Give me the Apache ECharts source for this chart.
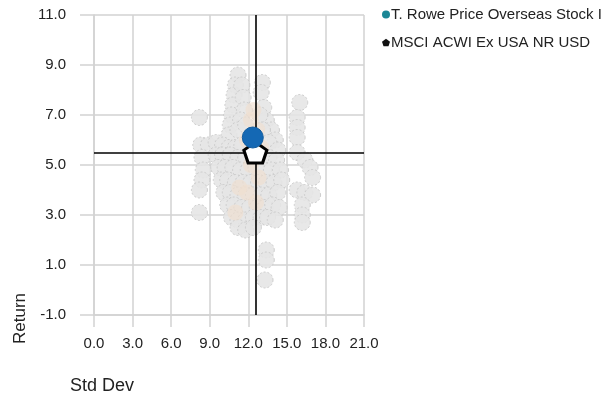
<!DOCTYPE html>
<html>
<head>
<meta charset="utf-8">
<script src="https://cdn.jsdelivr.net/npm/echarts@6/dist/echarts.min.js"></script>
<style>
  html, body { margin: 0; padding: 0; background: #fff; }
  #chart { width: 610px; height: 397px; }
</style>
</head>
<body>
<div id="chart"></div>
<script>
// Risk / return scatter: fund vs. benchmark against its peer group
var fundName = 'T. Rowe Price Overseas Stock I';
var benchName = 'MSCI ACWI Ex USA NR USD';

// [Std Dev, Return]
var fundPoint = [[12.35, 6.1]];
var benchPoint = [[12.55, 5.5]];

var xTicks = [0, 3, 6, 9, 12, 15, 18, 21];
var yTicks = [-1, 1, 3, 5, 7, 9, 11];

// Peer group observations
var peerPoints = [
  // upper column
  [11.2, 8.6], [11.0, 8.2], [10.9, 7.8], [10.8, 7.4], [10.7, 7.0], [10.6, 6.6], [10.5, 6.2],
  [11.5, 8.2], [11.6, 7.7], [11.7, 7.2], [11.4, 6.8], [11.2, 6.4], [11.8, 6.6],
  [13.1, 8.3], [13.0, 7.9], [13.2, 7.3], [13.4, 6.8], [13.8, 6.4], [14.1, 6.0],
  [12.9, 7.0], [13.1, 6.4], [13.6, 5.9], [14.3, 5.6],
  // isolated
  [8.2, 6.9],
  // upper-left stripe
  [8.3, 5.8], [8.9, 5.8], [9.5, 5.9], [10.0, 5.8], [10.5, 5.7], [11.0, 5.7], [11.5, 5.8],
  // left column
  [8.4, 5.3], [8.5, 4.8], [8.4, 4.4], [8.2, 4.0], [8.2, 3.1],
  // main body, row by row
  [9.5, 5.4], [10.0, 5.4], [10.6, 5.4], [11.2, 5.3], [11.8, 5.3], [13.0, 5.3], [13.6, 5.3], [14.2, 5.2],
  [9.7, 4.9], [10.2, 4.9], [10.8, 4.9], [11.4, 4.8], [12.0, 4.8], [12.6, 4.9], [13.2, 4.8], [13.8, 4.8], [14.5, 4.8],
  [9.9, 4.4], [10.4, 4.4], [11.0, 4.3], [11.6, 4.3], [12.2, 4.3], [12.8, 4.3], [13.4, 4.3], [14.0, 4.3], [14.6, 4.4],
  [10.1, 3.9], [10.6, 3.9], [11.2, 3.8], [11.8, 3.8], [12.4, 3.8], [13.0, 3.8], [13.6, 3.8], [14.3, 3.9],
  [10.4, 3.4], [10.9, 3.4], [11.5, 3.3], [12.1, 3.3], [12.7, 3.3], [13.3, 3.3], [13.9, 3.4], [14.4, 3.3],
  [10.7, 2.9], [11.2, 2.8], [11.8, 2.8], [12.4, 2.9], [13.0, 2.9], [13.5, 2.9], [14.1, 2.8],
  [11.2, 2.5], [11.8, 2.4], [12.4, 2.5],
  // right group
  [16.0, 7.5], [15.8, 6.9], [15.8, 6.5], [15.8, 6.1], [15.8, 5.5], [16.4, 5.2], [16.8, 4.9],
  [17.0, 4.5], [15.8, 4.0], [16.4, 3.9], [17.0, 3.8], [16.2, 3.4], [16.2, 3.0], [16.2, 2.7],
  // low returns
  [13.4, 1.6], [13.4, 1.2], [13.3, 0.4]
];

// Warmer-tinted peers in the dense middle of the group
var peerCore = [
  [12.2, 6.8], [12.7, 6.4], [12.4, 7.2], [11.9, 6.0], [12.2, 5.0], [12.8, 4.5], [11.9, 3.9],
  [12.6, 3.5], [13.0, 5.7], [11.3, 4.1], [11.0, 3.1]
];

var chart = echarts.init(document.getElementById('chart'), null, { renderer: 'canvas' });

var gridColor = '#d2d2d2';
var fontFamily = 'Liberation Sans, Arial, sans-serif';
var labelFont = { fontFamily: fontFamily, fontSize: 15, color: '#222' };

var pentagon = 'path://M12,0 L24,9 L19.5,23 L4.5,23 L0,9 Z';

var option = {
  animation: false,
  backgroundColor: '#ffffff',
  grid: { left: 94, top: 15, width: 270, height: 300, containLabel: false },
  xAxis: {
    type: 'value',
    min: xTicks[0],
    max: xTicks[xTicks.length - 1],
    interval: 3,
    axisLine: { show: true, onZero: false, lineStyle: { color: gridColor, width: 1.5 } },
    axisTick: { show: true, length: 12, lineStyle: { color: gridColor, width: 1.5 } },
    splitLine: { show: true, lineStyle: { color: gridColor, width: 1.5 } },
    axisLabel: Object.assign({ margin: 21, formatter: function (v) { return v.toFixed(1); } }, labelFont)
  },
  yAxis: {
    type: 'value',
    min: yTicks[0],
    max: yTicks[yTicks.length - 1],
    interval: 2,
    axisLine: { show: true, onZero: false, lineStyle: { color: gridColor, width: 1.5 } },
    axisTick: { show: true, length: 14, lineStyle: { color: gridColor, width: 1.5 } },
    splitLine: { show: true, lineStyle: { color: gridColor, width: 1.5 } },
    axisLabel: Object.assign({ margin: 28, formatter: function (v) { return v.toFixed(1); } }, labelFont)
  },
  legend: {
    orient: 'vertical',
    left: 377,
    top: 2,
    itemWidth: 8,
    itemHeight: 8,
    itemGap: 13,
    textStyle: { fontFamily: fontFamily, fontSize: 15, color: '#222', padding: [0, 0, 0, -4] },
    data: [
      { name: fundName, icon: 'circle', itemStyle: { color: '#1b8796', borderWidth: 0, opacity: 1 } },
      { name: benchName, icon: pentagon, itemStyle: { color: '#111', borderColor: '#111', borderWidth: 0, opacity: 1 } }
    ]
  },
  series: [
    {
      name: 'Peers',
      type: 'scatter',
      data: peerPoints,
      symbolSize: 16,
      z: 2,
      itemStyle: {
        opacity: 1,
        color: 'rgba(229,229,229,0.88)',
        borderColor: 'rgba(200,200,200,0.9)',
        borderWidth: 1,
        borderType: [2, 2]
      }
    },
    {
      name: 'Peers core',
      type: 'scatter',
      data: peerCore,
      symbolSize: 16,
      z: 3,
      itemStyle: {
        opacity: 1,
        color: 'rgba(240,222,208,0.65)',
        borderWidth: 0
      }
    },
    {
      name: 'Crosshair',
      type: 'scatter',
      data: [],
      z: 4,
      markLine: {
        silent: true,
        symbol: 'none',
        label: { show: false },
        lineStyle: { color: '#000', width: 1.6, type: 'solid' },
        data: [{ xAxis: benchPoint[0][0] }, { yAxis: benchPoint[0][1] }]
      }
    },
    {
      name: benchName,
      type: 'scatter',
      data: benchPoint,
      symbol: pentagon,
      symbolSize: [23, 21],
      z: 5,
      itemStyle: { opacity: 1, color: '#ffffff', borderColor: '#000', borderWidth: 3 }
    },
    {
      name: fundName,
      type: 'scatter',
      data: fundPoint,
      symbol: 'circle',
      symbolSize: 21,
      z: 6,
      itemStyle: { opacity: 1, color: '#1468b4', borderColor: '#125c9e', borderWidth: 1 }
    }
  ],
  graphic: [
    {
      type: 'text',
      left: 70,
      top: 377,
      style: { text: 'Std Dev', fontFamily: fontFamily, fontSize: 18, fill: '#222' }
    },
    {
      type: 'text',
      x: 12,
      y: 344,
      rotation: Math.PI / 2,
      style: { text: 'Return', fontFamily: fontFamily, fontSize: 17, fill: '#222' }
    }
  ]
};

chart.setOption(option);
</script>
</body>
</html>
